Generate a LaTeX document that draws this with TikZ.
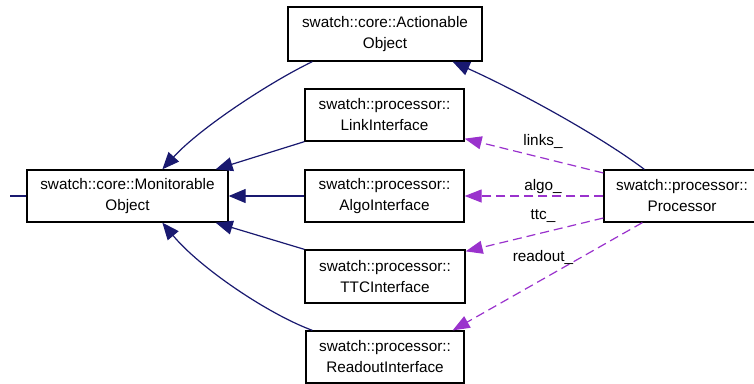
\documentclass[tikz,border=0pt]{standalone}
\usepackage{fontspec}
\setmainfont{Liberation Sans}
\usetikzlibrary{arrows.meta,calc}
\definecolor{navyedge}{HTML}{191970}
\definecolor{purpleedge}{HTML}{9A32CD}
\begin{document}
\begin{tikzpicture}[x=1pt,y=-1pt,
  box/.style={draw=black,line width=1.3pt,fill=white,inner sep=0pt,align=center,
    font=\fontsize{15.3}{21}\selectfont,minimum height=52pt},
  inh/.style={draw=navyedge,line width=1.2pt,-{Triangle[length=17pt,width=14pt]},color=navyedge},
  usage/.style={draw=purpleedge,line width=1.2pt,dash pattern=on 9pt off 5pt,
    -{Triangle[length=17pt,width=13pt]},color=purpleedge},
  lbl/.style={inner sep=0pt,font=\fontsize{15.3}{21}\selectfont,text=black}]
\useasboundingbox (0,0) rectangle (754,383);
\fill[white] (0,0) rectangle (754,383);
% nodes
\node[box,minimum width=194pt,minimum height=54pt] (act) at (385,34) {swatch::core::Actionable\\Object};
\node[box,minimum width=159pt] (link) at (384.5,115) {swatch::processor::\\LinkInterface};
\node[box,minimum width=201pt] (mon) at (127.5,196) {swatch::core::Monitorable\\Object};
\node[box,minimum width=159pt] (algo) at (384.5,196) {swatch::processor::\\AlgoInterface};
\node[box,minimum width=160pt,minimum height=53pt] (ttc) at (385,276.5) {swatch::processor::\\TTCInterface};
\node[box,minimum width=158pt] (ro) at (385,357) {swatch::processor::\\ReadoutInterface};
\node[box,minimum width=156pt] (proc) at (682,196) {swatch::processor::\\Processor};
\coordinate (stub) at (10,196);
% left stub
\draw[navyedge,line width=1.2pt] (stub) -- (mon.west);
% inheritance edges
\draw[inh] ($(act.south west)+(25,0)$) .. controls (270,82) and (200,128) .. ($(mon.north west)+(136,0)$);
\draw[inh] (link.south west) -- ($(mon.north east)+(-13,0)$);
\draw[inh] (algo.west) -- (mon.east);
\draw[inh] (ttc.north west) -- ($(mon.south east)+(-13,0)$);
\draw[inh] ($(ro.north west)+(7,0)$) .. controls (268,314) and (200,268) .. ($(mon.south west)+(136,0)$);
\draw[inh] ($(proc.north west)+(41,0)$) .. controls (600,136) and (520,92) .. ($(act.south east)+(-30,0)$);
% usage edges
\draw[usage] ($(proc.west)+(0,-23)$) -- ($(link.south east)+(0,-3)$);
\draw[usage] (proc.west) -- (algo.east);
\draw[usage] ($(proc.west)+(0,22)$) -- ($(ttc.north east)+(0,2)$);
\draw[usage] ($(proc.south west)+(39,0)$) -- ($(ro.north east)+(-12,0)$);
% labels
\node[lbl] (l1) at (543,141) {links\_};
\node[lbl] (l2) at (543,187) {algo\_};
\node[lbl] (l3) at (543,216) {ttc\_};
\node[lbl] (l4) at (543,257) {readout\_};
\end{tikzpicture}
\end{document}
